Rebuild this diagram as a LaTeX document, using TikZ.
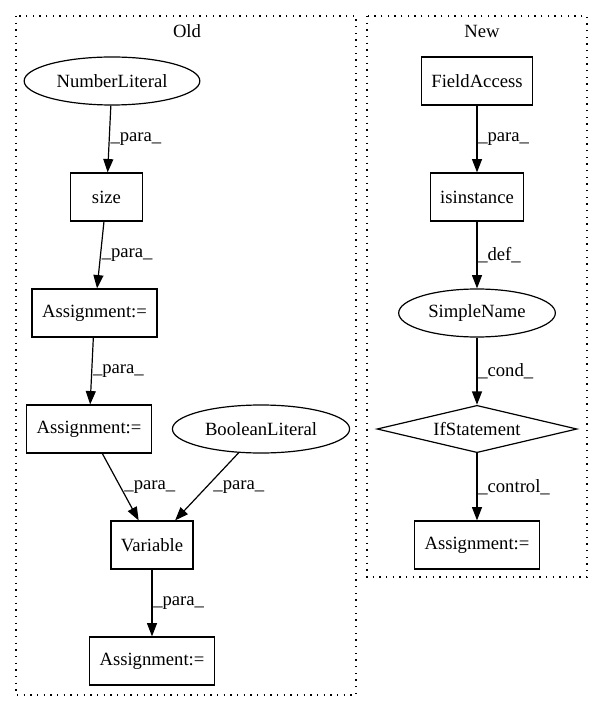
\documentclass[tikz,border=0pt]{standalone}
\usepackage{fontspec}
\setmainfont{Liberation Serif}
\usetikzlibrary{shapes.geometric, arrows.meta}

\tikzset{
	box/.style = {draw, rectangle, line width = 0.9pt, minimum width = 54pt, minimum height = 36pt, inner xsep = 7.5pt},
	oval/.style = {draw, ellipse, line width = 0.9pt, minimum height = 36pt, inner xsep = 5pt},
	choice/.style = {draw, diamond, aspect = 4.2, line width = 0.9pt, minimum width = 150pt, minimum height = 35.5pt, inner sep = 1pt},
	flow/.style = {line width = 0.9pt, -{Triangle[length = 10pt, width = 7.5pt]}},
	lbl/.style = {anchor = west, inner sep = 0.5pt},
	cluster/.style = {line width = 0.9pt, dash pattern = on 1pt off 4pt}
}

\begin{document}
\begin{tikzpicture}[x = 0.75pt, y = -0.75pt, font = \fontsize{14pt}{17pt}\selectfont]

	\useasboundingbox (0, 0) rectangle (603, 712);

	% Dotted clusters
	
	\draw [cluster] (16, 16) rectangle (356, 695);
	\draw [cluster] (367, 16) rectangle (587, 577);
	
	\node (old) at (187, 31) {Old};
	\node (new) at (482, 31) {New};

	% Old graph
	
	\node [oval] (numlit) at (112, 81) {NumberLiteral};
	\node [box] (size) at (106.5, 197) {size};
	\node [box] (assignA) at (94.5, 313) {Assignment:=};
	\node [box] (assignB) at (89, 429) {Assignment:=};
	\node [oval] (boollit) at (261, 429) {BooleanLiteral};
	\node [box] (variable) at (152, 545) {Variable};
	\node [box] (assignC) at (152, 661) {Assignment:=};
	
	% New graph
	
	\node [box] (field) at (477, 81) {FieldAccess};
	\node [box] (isinst) at (477, 197) {isinstance};
	\node [oval] (simple) at (477, 313) {SimpleName};
	\node [choice] (ifstmt) at (477, 429) {IfStatement};
	\node [box] (assignD) at (477, 545) {Assignment:=};
	
	% Edges with their labels
	
	\begin{scope}[flow]
	
		\draw (numlit) -- node [lbl] {\_para\_} (size);
		\draw (size) -- node [lbl] {\_para\_} (assignA);
		\draw (assignA) -- node [lbl] {\_para\_} (assignB);
		\draw (assignB) -- node [lbl, xshift = 2pt] {\_para\_} (variable);
		\draw (boollit) -- node [lbl, xshift = 4pt] {\_para\_} (variable);
		\draw (variable) -- node [lbl] {\_para\_} (assignC);
		
		\draw (field) -- node [lbl] {\_para\_} (isinst);
		\draw (isinst) -- node [lbl] {\_def\_} (simple);
		\draw (simple) -- node [lbl] {\_cond\_} (ifstmt);
		\draw (ifstmt) -- node [lbl] {\_control\_} (assignD);
	
	\end{scope}

\end{tikzpicture}
\end{document}
